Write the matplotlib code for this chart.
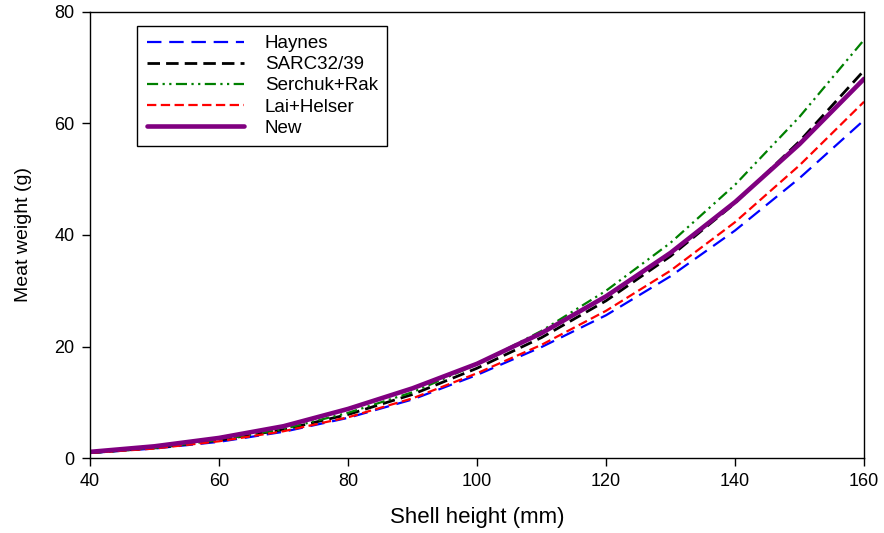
import numpy as np
import matplotlib.pyplot as plt

plt.rcParams["font.family"] = ["Liberation Sans", "DejaVu Sans"]

# shell height (mm) and predicted meat weight (g)
height = [40, 50, 60, 70, 80, 90, 100, 110, 120, 130, 140, 150, 160]
haynes = [0.9, 1.7, 2.9, 4.7, 7.2, 10.5, 14.9, 19.9, 25.6, 32.6, 40.8, 50.2, 60.6]
sarc = [0.95, 1.8, 3.2, 5.1, 7.8, 11.4, 16.1, 21.6, 28.2, 36.2, 45.7, 56.8, 69.5]
serchuk = [0.9, 1.8, 3.2, 5.2, 8.1, 11.8, 16.8, 22.8, 30.0, 38.6, 49.0, 61.2, 75.0]
lai = [0.9, 1.7, 3.0, 4.8, 7.3, 10.7, 15.2, 20.3, 26.4, 33.6, 42.3, 52.5, 63.9]
new = [1.1, 2.1, 3.6, 5.7, 8.8, 12.5, 16.9, 22.4, 29.0, 36.8, 45.9, 56.3, 68.0]

fig = plt.figure(figsize=(8.84, 5.33), dpi=100)
ax = fig.add_axes([0.1018, 0.1407, 0.8756, 0.8368])

ax.plot(height, haynes, color="#0000ff", lw=1.6, dashes=(6.5, 3.5), label="Haynes")
ax.plot(height, sarc, color="black", lw=2.0, dashes=(4.5, 2.2), label="SARC32/39")
ax.plot(height, serchuk, color="#008000", lw=1.6, dashes=(5, 2, 1, 2, 1, 2), label="Serchuk+Rak")
ax.plot(height, lai, color="#ff0000", lw=1.6, dashes=(4.2, 2), label="Lai+Helser")
ax.plot(height, new, color="#800080", lw=3.3, solid_capstyle="round", label="New")

ax.set_xlim(40, 160)
ax.set_ylim(0, 80)
ax.set_xticks(np.arange(40, 161, 20))
ax.set_yticks(np.arange(0, 81, 20))
ax.tick_params(direction="out", length=6, width=1, labelsize=13, pad=5,
               top=False, right=False)
for s in ax.spines.values():
    s.set_linewidth(1)
ax.set_xlabel("Shell height (mm)", fontsize=16, labelpad=12)
ax.set_ylabel("Meat weight (g)", fontsize=14, labelpad=16)

leg = ax.legend(loc="upper left", bbox_to_anchor=(0.061, 0.969), borderaxespad=0,
                fontsize=13.5, handlelength=5.2, handletextpad=1.1, labelspacing=0.21,
                fancybox=False, edgecolor="black", framealpha=1, borderpad=0.5)
leg.get_frame().set_linewidth(1)

fig.savefig("out.png", dpi=100)
